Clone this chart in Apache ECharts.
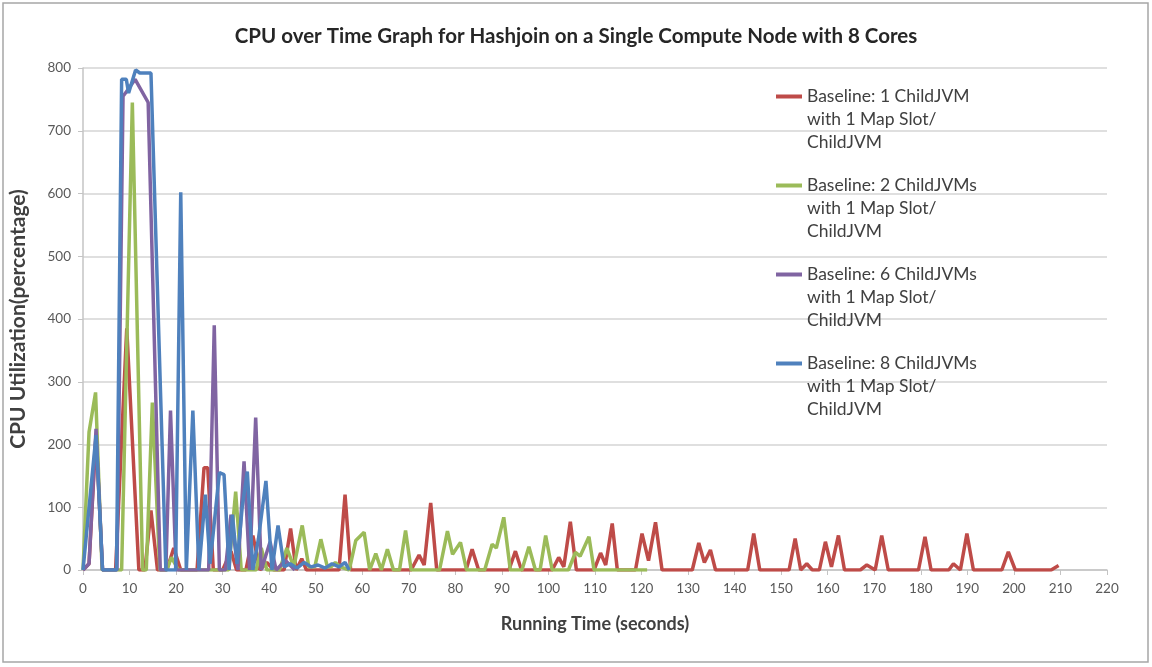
<!DOCTYPE html>
<html>
<head>
<meta charset="utf-8">
<title>CPU over Time Graph</title>
<script src="https://cdn.jsdelivr.net/npm/echarts@6/dist/echarts.min.js"></script>
<style>
  html, body { margin: 0; padding: 0; background: #fff; }
  #main { width: 1152px; height: 667px; }
</style>
</head>
<body>
<div id="main"></div>
<script>
    // x ticks / y ticks
    var xTicks = [0, 220, 10];
    var yTicks = [0, 800, 100];

    var seriesNames = [
        'Baseline: 1 ChildJVM with 1 Map Slot/ ChildJVM',
        'Baseline: 2 ChildJVMs with 1 Map Slot/ ChildJVM',
        'Baseline: 6 ChildJVMs with 1 Map Slot/ ChildJVM',
        'Baseline: 8 ChildJVMs with 1 Map Slot/ ChildJVM'
    ];

    // 1 ChildJVM (red)
    var redTime = [0, 1.3, 2.8, 4.2, 7, 9.4, 12, 13.3, 14.6, 16, 18, 19.5, 21, 24.5, 26, 26.8, 28, 30, 31.8, 33, 35, 36.5, 38, 39.5, 41, 43.2, 44.6, 45.8, 47, 48, 55, 56.3, 57.5,
        70.5, 72.2, 73.3, 74.7, 76, 82.3, 83.6, 85, 91.5, 92.9, 94.2, 100.8, 102.2, 103.3, 104.7, 106, 109.8, 111.2, 112.3, 113.7, 114.8, 118.7, 120.1, 121.5, 123, 124.4,
        130.9, 132.3, 133.5, 134.8, 135.9, 142.8, 144.1, 145.4, 151.7, 153, 154.2, 155.5, 156.7, 158.2, 159.5, 160.8, 162.3, 163.6, 167, 168.4, 170.2, 171.6, 173,
        179.5, 180.9, 182.2, 186, 187, 188.5, 189.9, 191.3, 197.4, 198.8, 200.3, 208, 209.6];
    var redCpu = [0, 10, 215, 0, 0, 385, 0, 0, 95, 0, 0, 35, 0, 0, 163, 163, 0, 0, 30, 0, 0, 55, 0, 12, 0, 0, 66, 0, 18, 0, 0, 120, 0,
        0, 24, 8, 107, 0, 0, 33, 0, 0, 30, 0, 0, 20, 5, 77, 0, 0, 27, 8, 74, 0, 0, 58, 15, 76, 0,
        0, 43, 12, 32, 0, 0, 58, 0, 0, 50, 0, 10, 0, 0, 45, 5, 55, 0, 0, 8, 0, 55, 0,
        0, 53, 0, 0, 10, 0, 58, 0, 0, 29, 0, 0, 7];

    // 2 ChildJVMs (green)
    var greenTime = [0, 1.3, 2.7, 4.1, 8.3, 10.6, 12.8, 13.6, 14.9, 16.5, 18, 19, 20.5, 31.3, 32.8, 34, 37.2, 38.3, 39.5, 42.2, 43.8, 45.3, 47.1, 48.5, 49.8, 51.1, 52.5, 53.3, 54.2, 55.3,
        57.2, 58.6, 60.4, 61.6, 62.9, 64.1, 65.4, 66.7, 68, 69.3, 70.5, 76.6, 78.3, 79.4, 81.1, 82.4, 86.3, 87.9, 88.8, 90.4, 91.8, 94.3, 95.8, 97.2, 98.2, 99.4, 100.8,
        104.3, 105.8, 106.8, 108.7, 109.8, 121.2];
    var greenCpu = [0, 220, 283, 0, 0, 745, 0, 0, 267, 0, 0, 20, 0, 0, 125, 0, 0, 35, 0, 0, 35, 5, 71, 5, 5, 49, 5, 5, 12, 5,
        0, 47, 60, 0, 26, 0, 33, 0, 0, 63, 0, 0, 62, 25, 44, 0, 0, 41, 35, 84, 0, 0, 37, 0, 0, 55, 0,
        0, 28, 22, 53, 0, 0];

    // 6 ChildJVMs (purple)
    var purpleTime = [0, 1.3, 2.8, 4.2, 7.3, 8.6, 9.6, 11.2, 14, 16.6, 17.8, 18.8, 20, 27, 28.2, 29.3, 30.6, 31.8, 33.3, 34.6, 35.8, 37.1, 38.3, 40.2, 41.5, 43.5, 45.5];
    var purpleCpu = [0, 10, 225, 0, 0, 755, 765, 782, 745, 0, 0, 254, 0, 0, 390, 0, 0, 88, 0, 173, 0, 243, 0, 45, 0, 15, 0];

    // 8 ChildJVMs (blue)
    var blueTime = [0, 2.8, 4.2, 7.2, 8.3, 9.3, 9.8, 11.3, 12.2, 14.6, 17.8, 19.9, 21, 22.2, 23.6, 24.9, 26.3, 27.3, 29.3, 30.3, 31.4, 32.1, 33.1, 34.2, 35.3, 36.5, 37.7, 39.3, 40.6, 41.9,
        43.2, 44.5, 46, 47.5, 49, 50.5, 52, 53.5, 55, 56.3, 57.2];
    var blueCpu = [0, 215, 0, 0, 782, 782, 760, 797, 792, 792, 0, 0, 602, 0, 254, 0, 120, 10, 155, 152, 0, 88, 10, 100, 157, 0, 50, 142, 0, 71,
        5, 10, 3, 12, 5, 8, 3, 10, 5, 12, 0];

    var colors = ['#BE4B48', '#9BBB59', '#8064A2', '#4F81BD'];

    function pairs(t, v) {
        var out = [];
        for (var i = 0; i < t.length; i++) out.push([t[i], v[i]]);
        return out;
    }
    var allData = [pairs(redTime, redCpu), pairs(greenTime, greenCpu), pairs(purpleTime, purpleCpu), pairs(blueTime, blueCpu)];

    var font = 'Lato, "Open Sans", sans-serif';

    var chart = echarts.init(document.getElementById('main')),
        option = {
            backgroundColor: '#fff',
            animation: false,
            color: colors,
            title: {
                text: 'CPU over Time Graph for Hashjoin on a Single Compute Node with 8 Cores',
                left: 'center',
                top: 21,
                textStyle: { fontFamily: font, fontSize: 20.5, fontWeight: 'bold', color: '#262626' }
            },
            legend: {
                data: seriesNames,
                orient: 'vertical',
                left: 776,
                top: 85,
                padding: 0,
                itemGap: 20,
                // bar at the top of the icon box so it sits beside the first text line
                icon: 'path://M0,0H26V4H0Z M0,49.9H0.1V50H0Z',
                itemWidth: 26,
                itemHeight: 50,
                selectedMode: false,
                formatter: function (n) { return n.replace(' with', '\nwith').replace('/ ', '/\n'); },
                textStyle: { fontFamily: font, fontSize: 17.5, color: '#404040', lineHeight: 23 }
            },
            grid: { left: 82, right: 45, top: 68, bottom: 97 },
            xAxis: {
                type: 'value',
                min: xTicks[0], max: xTicks[1], interval: xTicks[2],
                name: 'Running Time (seconds)',
                nameLocation: 'middle',
                nameGap: 45,
                nameTextStyle: { fontFamily: font, fontSize: 18, fontWeight: 'bold', color: '#404040' },
                axisLine: { lineStyle: { color: '#c4c4c4', width: 1.5 } },
                axisTick: { show: true, length: 5, lineStyle: { color: '#c4c4c4' } },
                axisLabel: { fontFamily: font, fontSize: 13.5, color: '#595959', margin: 12 },
                splitLine: { show: false }
            },
            yAxis: {
                type: 'value',
                min: yTicks[0], max: yTicks[1], interval: yTicks[2],
                name: 'CPU Utilization(percentage)',
                nameLocation: 'middle',
                nameGap: 54,
                nameTextStyle: { fontFamily: font, fontSize: 21, fontWeight: 'bold', color: '#404040' },
                axisLine: { show: true, lineStyle: { color: '#c4c4c4', width: 1.5 } },
                axisTick: { show: true, length: 5, lineStyle: { color: '#c4c4c4' } },
                axisLabel: { fontFamily: font, fontSize: 13.5, color: '#595959', margin: 12 },
                splitLine: { lineStyle: { color: '#d4d4d4', width: 1.5 } }
            },
            graphic: [{
                type: 'rect',
                shape: { x: 3, y: 3, width: 1145, height: 659 },
                style: { fill: 'none', stroke: '#a6a6a6', lineWidth: 1.5 },
                silent: true
            }],
            series: seriesNames.map(function (name, i) {
                return {
                    name: name,
                    type: 'line',
                    data: allData[i],
                    showSymbol: false,
                    lineStyle: { width: 3.5, color: colors[i] },
                    itemStyle: { color: colors[i] }
                };
            })
        };
    chart.setOption(option);
</script>
</body>
</html>
